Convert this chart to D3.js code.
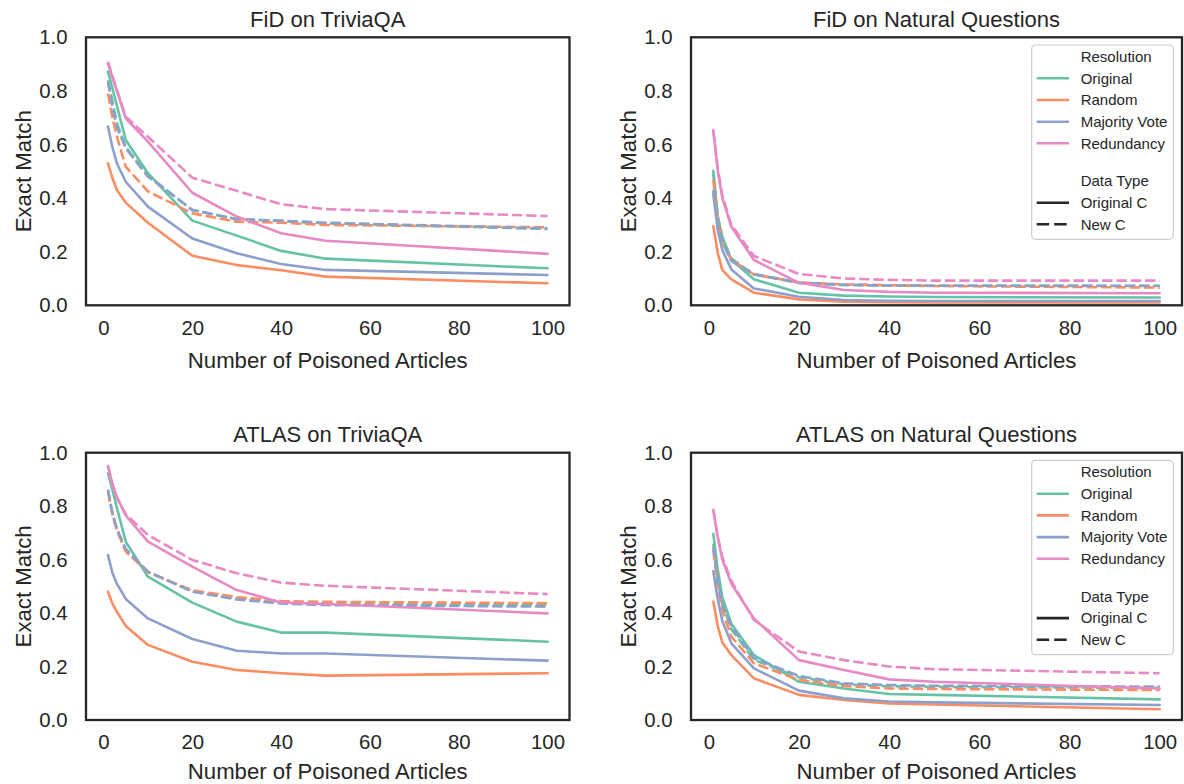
<!DOCTYPE html>
<html>
<head>
<meta charset="utf-8">
<script src="https://cdn.jsdelivr.net/npm/d3@7"></script>
<style>
  html, body { margin: 0; padding: 0; background: #ffffff; }
  svg { display: block; }
  text { font-family: "Liberation Sans", Arial, Helvetica, sans-serif; fill: #262626; }
</style>
</head>
<body>
<svg id="chart" width="1184" height="784"></svg>
<script>
// ---------------- DATA ----------------
const poisoned = [1, 2, 3, 5, 10, 20, 30, 40, 50, 100];
const resolutions = ["Original", "Random", "Majority Vote", "Redundancy"];
const dataTypes = ["Original C", "New C"];
const panelTitles = ["FiD on TriviaQA", "FiD on Natural Questions", "ATLAS on TriviaQA", "ATLAS on Natural Questions"];
const xTicks = [0, 20, 40, 60, 80, 100];
const yTicks = [0.0, 0.2, 0.4, 0.6, 0.8, 1.0];

// FiD on TriviaQA
const fidTqaOriginalOrigC   = [0.872, 0.81, 0.745, 0.617, 0.493, 0.316, 0.260, 0.203, 0.174, 0.138];
const fidTqaOriginalNewC    = [0.840, 0.76, 0.680, 0.590, 0.485, 0.355, 0.322, 0.314, 0.306, 0.285];
const fidTqaRandomOrigC     = [0.530, 0.475, 0.430, 0.383, 0.308, 0.185, 0.150, 0.131, 0.107, 0.082];
const fidTqaRandomNewC      = [0.790, 0.700, 0.630, 0.517, 0.425, 0.343, 0.312, 0.308, 0.300, 0.291];
const fidTqaMajorityOrigC   = [0.667, 0.590, 0.530, 0.461, 0.368, 0.249, 0.194, 0.154, 0.132, 0.113];
const fidTqaMajorityNewC    = [0.835, 0.740, 0.665, 0.586, 0.480, 0.356, 0.321, 0.316, 0.308, 0.287];
const fidTqaRedundancyOrigC = [0.903, 0.850, 0.800, 0.698, 0.611, 0.420, 0.331, 0.269, 0.241, 0.192];
const fidTqaRedundancyNewC  = [0.909, 0.855, 0.805, 0.704, 0.629, 0.476, 0.427, 0.377, 0.359, 0.333];

// FiD on Natural Questions
const fidNqOriginalOrigC   = [0.502, 0.330, 0.256, 0.170, 0.097, 0.047, 0.036, 0.033, 0.031, 0.029];
const fidNqOriginalNewC    = [0.490, 0.330, 0.250, 0.175, 0.115, 0.083, 0.076, 0.074, 0.073, 0.072];
const fidNqRandomOrigC     = [0.296, 0.194, 0.132, 0.097, 0.047, 0.022, 0.013, 0.012, 0.011, 0.011];
const fidNqRandomNewC      = [0.468, 0.320, 0.235, 0.170, 0.115, 0.085, 0.078, 0.075, 0.072, 0.066];
const fidNqMajorityOrigC   = [0.415, 0.280, 0.206, 0.134, 0.063, 0.032, 0.020, 0.017, 0.016, 0.016];
const fidNqMajorityNewC    = [0.430, 0.310, 0.235, 0.165, 0.117, 0.085, 0.076, 0.074, 0.073, 0.073];
const fidNqRedundancyOrigC = [0.654, 0.500, 0.400, 0.293, 0.169, 0.084, 0.057, 0.050, 0.047, 0.045];
const fidNqRedundancyNewC  = [0.650, 0.510, 0.410, 0.300, 0.184, 0.117, 0.100, 0.095, 0.092, 0.092];

// ATLAS on TriviaQA
const atlasTqaOriginalOrigC   = [0.923, 0.860, 0.795, 0.667, 0.536, 0.439, 0.368, 0.327, 0.327, 0.293];
const atlasTqaOriginalNewC    = [0.858, 0.772, 0.712, 0.636, 0.554, 0.482, 0.455, 0.440, 0.435, 0.430];
const atlasTqaRandomOrigC     = [0.480, 0.436, 0.405, 0.352, 0.281, 0.218, 0.187, 0.175, 0.166, 0.175];
const atlasTqaRandomNewC      = [0.855, 0.770, 0.710, 0.630, 0.553, 0.485, 0.460, 0.445, 0.442, 0.437];
const atlasTqaMajorityOrigC   = [0.617, 0.550, 0.510, 0.453, 0.380, 0.303, 0.259, 0.249, 0.249, 0.222];
const atlasTqaMajorityNewC    = [0.862, 0.775, 0.715, 0.640, 0.555, 0.480, 0.451, 0.436, 0.430, 0.424];
const atlasTqaRedundancyOrigC = [0.950, 0.880, 0.835, 0.765, 0.667, 0.574, 0.486, 0.440, 0.434, 0.399];
const atlasTqaRedundancyNewC  = [0.950, 0.885, 0.830, 0.770, 0.692, 0.599, 0.549, 0.514, 0.502, 0.471];

// ATLAS on Natural Questions
const atlasNqOriginalOrigC   = [0.696, 0.560, 0.460, 0.360, 0.243, 0.143, 0.118, 0.097, 0.094, 0.077];
const atlasNqOriginalNewC    = [0.660, 0.530, 0.440, 0.340, 0.225, 0.160, 0.133, 0.126, 0.124, 0.120];
const atlasNqRandomOrigC     = [0.443, 0.350, 0.290, 0.243, 0.156, 0.094, 0.075, 0.062, 0.058, 0.040];
const atlasNqRandomNewC      = [0.636, 0.500, 0.410, 0.312, 0.212, 0.150, 0.127, 0.118, 0.116, 0.112];
const atlasNqMajorityOrigC   = [0.557, 0.450, 0.370, 0.287, 0.193, 0.110, 0.081, 0.069, 0.066, 0.056];
const atlasNqMajorityNewC    = [0.648, 0.520, 0.430, 0.350, 0.231, 0.165, 0.137, 0.131, 0.128, 0.125];
const atlasNqRedundancyOrigC = [0.786, 0.680, 0.600, 0.510, 0.380, 0.224, 0.187, 0.152, 0.143, 0.118];
const atlasNqRedundancyNewC  = [0.786, 0.685, 0.610, 0.520, 0.374, 0.256, 0.224, 0.200, 0.190, 0.175];

// series per panel, in seaborn drawing order (hue, then style)
const panelSeries = [
  [fidTqaOriginalOrigC, fidTqaOriginalNewC, fidTqaRandomOrigC, fidTqaRandomNewC,
   fidTqaMajorityOrigC, fidTqaMajorityNewC, fidTqaRedundancyOrigC, fidTqaRedundancyNewC],
  [fidNqOriginalOrigC, fidNqOriginalNewC, fidNqRandomOrigC, fidNqRandomNewC,
   fidNqMajorityOrigC, fidNqMajorityNewC, fidNqRedundancyOrigC, fidNqRedundancyNewC],
  [atlasTqaOriginalOrigC, atlasTqaOriginalNewC, atlasTqaRandomOrigC, atlasTqaRandomNewC,
   atlasTqaMajorityOrigC, atlasTqaMajorityNewC, atlasTqaRedundancyOrigC, atlasTqaRedundancyNewC],
  [atlasNqOriginalOrigC, atlasNqOriginalNewC, atlasNqRandomOrigC, atlasNqRandomNewC,
   atlasNqMajorityOrigC, atlasNqMajorityNewC, atlasNqRedundancyOrigC, atlasNqRedundancyNewC]
];

// ---------------- STYLE / LAYOUT ----------------
const colors = ["#66c2a5", "#fc8d62", "#8da0cb", "#e78ac3"];
const dashFor = { "Original C": null, "New C": "10.4,3.9" };
const lineW = 2.6;
const frames = [
  { left: 86,  right: 569.5, top: 37.3,  bottom: 305.3, legend: false, xlabY: 367.5 },
  { left: 691, right: 1182,  top: 37.3,  bottom: 305.3, legend: true,  xlabY: 367.5 },
  { left: 86,  right: 569.5, top: 452.7, bottom: 720,   legend: false, xlabY: 779.2 },
  { left: 691, right: 1182,  top: 452.7, bottom: 720,   legend: true,  xlabY: 779.2 }
];

const svg = d3.select("#chart");

frames.forEach((f, pi) => {
  const g = svg.append("g");
  const x = d3.scaleLinear().domain([-3.95, 104.95]).range([f.left, f.right]);
  const y = d3.scaleLinear().domain([0, 1]).range([f.bottom, f.top]);

  // axes
  const xAxis = g.append("g").attr("transform", `translate(0,${f.bottom})`)
    .call(d3.axisBottom(x).tickValues(xTicks).tickSize(0).tickPadding(15).tickFormat(d3.format("d")));
  xAxis.select(".domain").remove();
  xAxis.selectAll("text").attr("font-size", 20.4).attr("font-family", '"Liberation Sans", Arial, sans-serif').attr("fill", "#262626");

  const yAxis = g.append("g").attr("transform", `translate(${f.left},0)`)
    .call(d3.axisLeft(y).tickValues(yTicks).tickSize(0).tickPadding(18.5).tickFormat(d3.format(".1f")));
  yAxis.select(".domain").remove();
  yAxis.selectAll("text").attr("font-size", 20.4).attr("font-family", '"Liberation Sans", Arial, sans-serif').attr("fill", "#262626");

  // lines
  const clipId = "clip" + pi;
  g.append("clipPath").attr("id", clipId).append("rect")
    .attr("x", f.left).attr("y", f.top).attr("width", f.right - f.left).attr("height", f.bottom - f.top);
  const lineGen = d3.line().x((d, i) => x(poisoned[i])).y(d => y(d));
  const lg = g.append("g").attr("clip-path", `url(#${clipId})`);
  panelSeries[pi].forEach((vals, si) => {
    const hue = Math.floor(si / 2);
    const style = dataTypes[si % 2];
    const p = lg.append("path").datum(vals)
      .attr("d", lineGen)
      .attr("fill", "none")
      .attr("stroke", colors[hue])
      .attr("stroke-width", lineW)
      .attr("stroke-linejoin", "round")
      .attr("stroke-linecap", style === "New C" ? "butt" : "round");
    if (dashFor[style]) p.attr("stroke-dasharray", dashFor[style]);
  });

  // frame
  g.append("rect").attr("x", f.left).attr("y", f.top)
    .attr("width", f.right - f.left).attr("height", f.bottom - f.top)
    .attr("fill", "none").attr("stroke", "#262626").attr("stroke-width", 2.3);

  // title
  g.append("text").attr("x", (f.left + f.right) / 2).attr("y", f.top - 10.6)
    .attr("text-anchor", "middle").attr("font-size", 22).text(panelTitles[pi]);

  // axis labels
  g.append("text").attr("x", (f.left + f.right) / 2).attr("y", f.xlabY)
    .attr("text-anchor", "middle").attr("font-size", 22.2).text("Number of Poisoned Articles");
  g.append("text")
    .attr("transform", `translate(${f.left - 55},${(f.top + f.bottom) / 2}) rotate(-90)`)
    .attr("text-anchor", "middle").attr("font-size", 22.2).text("Exact Match");

  // legend
  if (f.legend) {
    const lx = f.right - 150.3, ly = f.top + 7.7;
    const leg = g.append("g");
    leg.append("rect").attr("x", lx).attr("y", ly).attr("width", 141.6).attr("height", 194.3)
      .attr("rx", 4).attr("fill", "#ffffff").attr("fill-opacity", 0.8)
      .attr("stroke", "#cccccc").attr("stroke-width", 1.2);
    const rows = [
      { label: "Resolution", off: 11.7 },
      { label: resolutions[0], off: 33.3, color: colors[0] },
      { label: resolutions[1], off: 55.0, color: colors[1] },
      { label: resolutions[2], off: 76.7, color: colors[2] },
      { label: resolutions[3], off: 98.3, color: colors[3] },
      { label: "Data Type", off: 136.0 },
      { label: dataTypes[0], off: 157.7, color: "#262626", dash: dashFor[dataTypes[0]] },
      { label: dataTypes[1], off: 179.3, color: "#262626", dash: dashFor[dataTypes[1]] }
    ];
    rows.forEach(r => {
      const cy = ly + r.off;
      if (r.color) {
        const h = leg.append("line").attr("x1", lx + 5).attr("x2", lx + 37.3)
          .attr("y1", cy).attr("y2", cy)
          .attr("stroke", r.color).attr("stroke-width", lineW);
        if (r.dash) h.attr("stroke-dasharray", "12.5,5");
      }
      leg.append("text").attr("x", lx + 49).attr("y", cy + 5.3)
        .attr("font-size", 15).text(r.label);
    });
  }
});
</script>
</body>
</html>
